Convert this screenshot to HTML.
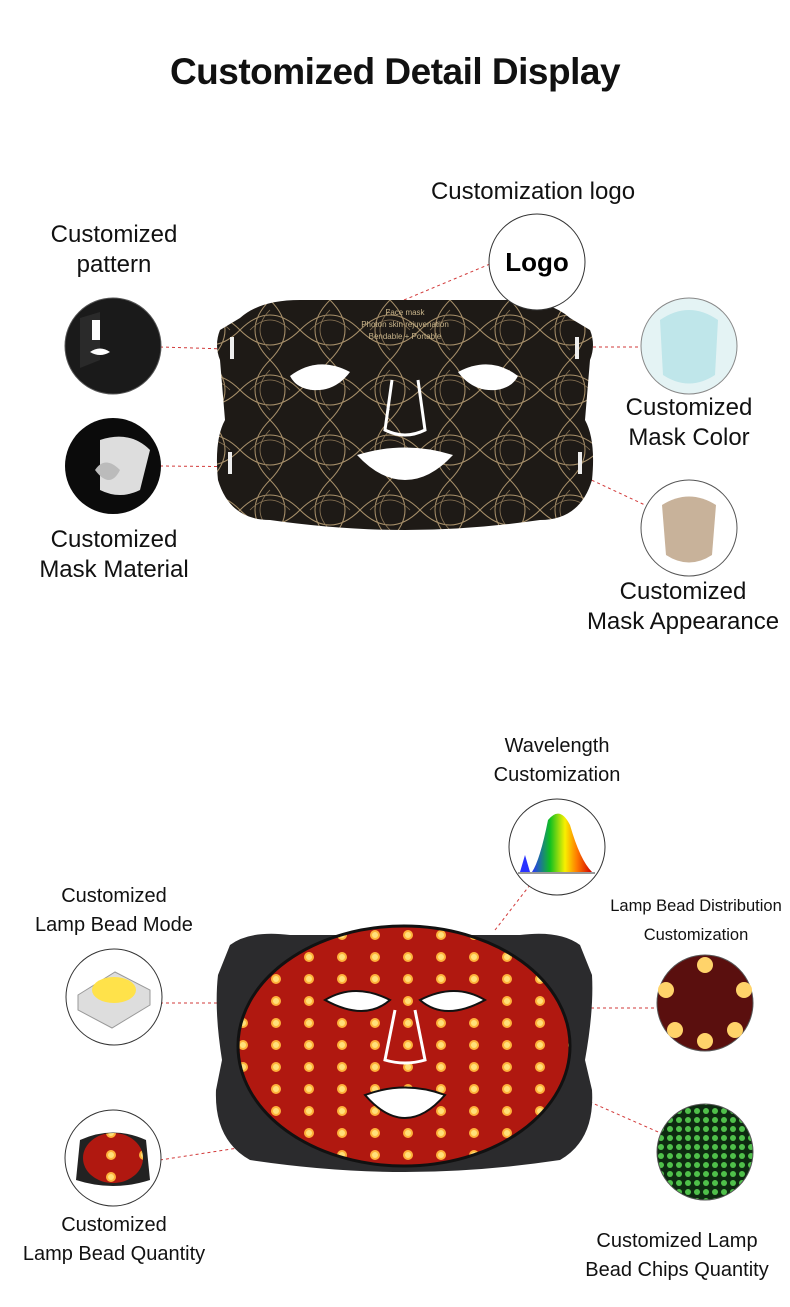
<!DOCTYPE html>
<html><head><meta charset="utf-8"><style>
html,body{margin:0;padding:0;background:#fff;}
body{width:790px;height:1307px;position:relative;overflow:hidden;font-family:"Liberation Sans","DejaVu Sans",sans-serif;color:#111;}
.t{position:absolute;text-align:center;white-space:nowrap;line-height:30px;font-size:24px;}
.s{font-size:20px;line-height:29px;}
.xs{font-size:16.5px;line-height:29px;}
</style></head><body>
<div class="t" style="left:0;width:790px;top:48px;font-size:37px;font-weight:bold;line-height:48px;letter-spacing:-0.5px">Customized Detail Display</div>

<div class="t" style="left:383px;width:300px;top:177px">Customization logo</div>
<div class="t" style="left:0;width:228px;top:220px">Customized<br>pattern</div>
<div class="t" style="left:0;width:228px;top:525px">Customized<br>Mask Material</div>
<div class="t" style="left:589px;width:200px;top:393px">Customized<br>Mask Color</div>
<div class="t" style="left:570px;width:226px;top:577px">Customized<br>Mask Appearance</div>

<div class="t s" style="left:457px;width:200px;top:732px">Wavelength<br>Customization</div>
<div class="t s" style="left:0;width:228px;top:882px">Customized<br>Lamp Bead Mode</div>
<div class="t xs" style="left:596px;width:200px;top:892px">Lamp Bead Distribution<br>Customization</div>
<div class="t s" style="left:0;width:228px;top:1211px">Customized<br>Lamp Bead Quantity</div>
<div class="t s" style="left:567px;width:220px;top:1227px">Customized Lamp<br>Bead Chips Quantity</div>

<svg width="790" height="1307" style="position:absolute;left:0;top:0">
<defs>
<pattern id="leaf" width="60" height="60" patternUnits="userSpaceOnUse">
<rect width="60" height="60" fill="#1e1a16"/>
<path d="M0 30 Q30 0 60 30 Q30 60 0 30 M30 0 Q0 30 30 60 Q60 30 30 0" fill="none" stroke="#a8906a" stroke-width="1"/>
<path d="M10 30 Q30 10 50 30 M30 10 Q10 30 30 50" fill="none" stroke="#8c7656" stroke-width="0.8"/>
</pattern>
<pattern id="beads" x="0" y="0" width="33" height="22" patternUnits="userSpaceOnUse">
<rect width="33" height="22" fill="#b01810"/>
<circle cx="12" cy="11" r="5" fill="#ffb23a"/><circle cx="12" cy="11" r="3" fill="#ffe07a"/>
</pattern>
<pattern id="green" width="9" height="9" patternUnits="userSpaceOnUse">
<rect width="9" height="9" fill="#0d2a10"/><circle cx="4" cy="4" r="3" fill="#4fc04a"/>
</pattern>
<linearGradient id="spec" x1="0" x2="1"><stop offset="0" stop-color="#2a33ff"/><stop offset=".3" stop-color="#10c020"/><stop offset=".55" stop-color="#f8f000"/><stop offset=".75" stop-color="#ff7a00"/><stop offset="1" stop-color="#d00000"/></linearGradient>
</defs>

<g stroke="#d23a3a" stroke-width="1" stroke-dasharray="3,3" fill="none">
<line x1="404" y1="300" x2="490" y2="264"/>
<line x1="160" y1="347" x2="260" y2="350"/>
<line x1="160" y1="466" x2="270" y2="467"/>
<line x1="575" y1="347" x2="642" y2="347"/>
<line x1="570" y1="470" x2="645" y2="505"/>
<line x1="495" y1="930" x2="530" y2="885"/>
<line x1="160" y1="1003" x2="240" y2="1003"/>
<line x1="585" y1="1008" x2="660" y2="1008"/>
<line x1="160" y1="1160" x2="290" y2="1140"/>
<line x1="540" y1="1080" x2="665" y2="1135"/>
</g>

<!-- top mask -->
<path d="M240 318 Q260 300 300 300 L510 300 Q550 300 570 318 L590 330 Q596 345 590 360 L585 420 Q596 440 592 480 Q580 520 540 520 Q470 530 405 530 Q340 530 270 520 Q230 520 218 480 Q214 440 225 420 L220 360 Q214 345 220 330 Z" fill="url(#leaf)"/>
<g fill="#fff">
<path d="M290 376 Q318 355 350 372 Q335 392 312 390 Q296 388 290 376Z"/>
<path d="M518 376 Q490 355 458 372 Q473 392 496 390 Q512 388 518 376Z"/>
<path d="M357 455 Q405 440 453 455 Q430 480 405 480 Q380 480 357 455Z"/>
</g>
<path d="M392 380 L385 430 Q405 440 425 430 L418 380" fill="none" stroke="#fff" stroke-width="3"/>
<g fill="#eee"><rect x="230" y="337" width="4" height="22"/><rect x="575" y="337" width="4" height="22"/><rect x="228" y="452" width="4" height="22"/><rect x="578" y="452" width="4" height="22"/></g>
<text x="405" y="315" fill="#c8b48a" font-size="8" text-anchor="middle" font-family="Liberation Sans">Face mask</text>
<text x="405" y="327" fill="#c8b48a" font-size="8" text-anchor="middle" font-family="Liberation Sans">Photon skin rejuvenation</text>
<text x="405" y="339" fill="#c8b48a" font-size="8" text-anchor="middle" font-family="Liberation Sans">Bendable + Portable</text>

<!-- top circles -->
<circle cx="537" cy="262" r="48" fill="#fff" stroke="#333" stroke-width="1"/>
<text x="537" y="271" font-size="26" font-weight="bold" text-anchor="middle" font-family="Liberation Sans">Logo</text>
<circle cx="113" cy="346" r="48" fill="#1a1a1a" stroke="#555"/>
<path d="M80 318 L100 312 L100 360 L80 368Z" fill="#2a2a2a"/><rect x="92" y="320" width="8" height="20" fill="#fff"/><path d="M90 352 Q100 345 110 352 Q100 358 90 352Z" fill="#fff"/>
<circle cx="113" cy="466" r="48" fill="#0b0b0b"/>
<path d="M100 440 Q130 430 150 450 L140 490 Q120 500 100 490Z" fill="#ddd"/><path d="M95 470 Q105 455 120 470 Q110 490 95 470Z" fill="#bbb"/>
<circle cx="689" cy="346" r="48" fill="#e4f3f4" stroke="#888"/>
<path d="M660 320 Q689 300 718 320 L715 375 Q689 392 663 375Z" fill="#bfe6ea"/>
<circle cx="689" cy="528" r="48" fill="#fff" stroke="#555"/>
<path d="M662 505 Q689 488 716 505 L712 555 Q689 570 666 555Z" fill="#c8b29a"/>

<!-- bottom mask -->
<path d="M230 945 Q250 930 290 935 L520 935 Q560 930 580 945 L592 975 Q594 1010 585 1060 L592 1090 Q595 1140 560 1160 Q480 1172 405 1172 Q330 1172 250 1160 Q214 1140 216 1090 L222 1060 Q214 1010 218 975Z" fill="#2b2b2d"/>
<ellipse cx="404" cy="1046" rx="166" ry="120" fill="url(#beads)" stroke="#111" stroke-width="3"/>
<g fill="#fff" stroke="#111" stroke-width="2">
<path d="M325 1000 Q355 982 390 1000 Q365 1022 325 1000Z"/>
<path d="M485 1000 Q455 982 420 1000 Q445 1022 485 1000Z"/>
<path d="M365 1095 Q405 1080 445 1095 Q425 1118 405 1118 Q385 1118 365 1095Z"/>
</g>
<path d="M395 1010 L385 1060 Q405 1066 425 1060 L415 1010" fill="none" stroke="#fff" stroke-width="3"/>

<!-- bottom circles -->
<circle cx="557" cy="847" r="48" fill="#fff" stroke="#333"/>
<path d="M520 872 L525 855 L530 872 Z" fill="#2a33ff"/>
<path d="M532 872 Q540 860 548 820 Q560 805 570 825 Q580 860 592 872Z" fill="url(#spec)"/>
<line x1="518" y1="873" x2="595" y2="873" stroke="#333"/>
<circle cx="114" cy="997" r="48" fill="#fff" stroke="#333"/>
<path d="M78 995 L115 972 L150 990 L150 1005 L112 1028 L78 1010Z" fill="#ddd" stroke="#999"/>
<ellipse cx="114" cy="990" rx="22" ry="13" fill="#ffe24a"/>
<circle cx="705" cy="1003" r="48" fill="#5a0f0e" stroke="#555"/>
<g fill="#ffd36a"><circle cx="705" cy="965" r="8"/><circle cx="705" cy="1041" r="8"/><circle cx="666" cy="990" r="8"/><circle cx="744" cy="990" r="8"/><circle cx="675" cy="1030" r="8"/><circle cx="735" cy="1030" r="8"/></g>
<circle cx="113" cy="1158" r="48" fill="#fff" stroke="#333"/>
<path d="M80 1140 Q113 1125 146 1140 L150 1180 Q113 1192 76 1180Z" fill="#222"/>
<ellipse cx="113" cy="1158" rx="30" ry="25" fill="url(#beads)"/>
<circle cx="705" cy="1152" r="48" fill="url(#green)" stroke="#555"/>
</svg>
</body></html>
